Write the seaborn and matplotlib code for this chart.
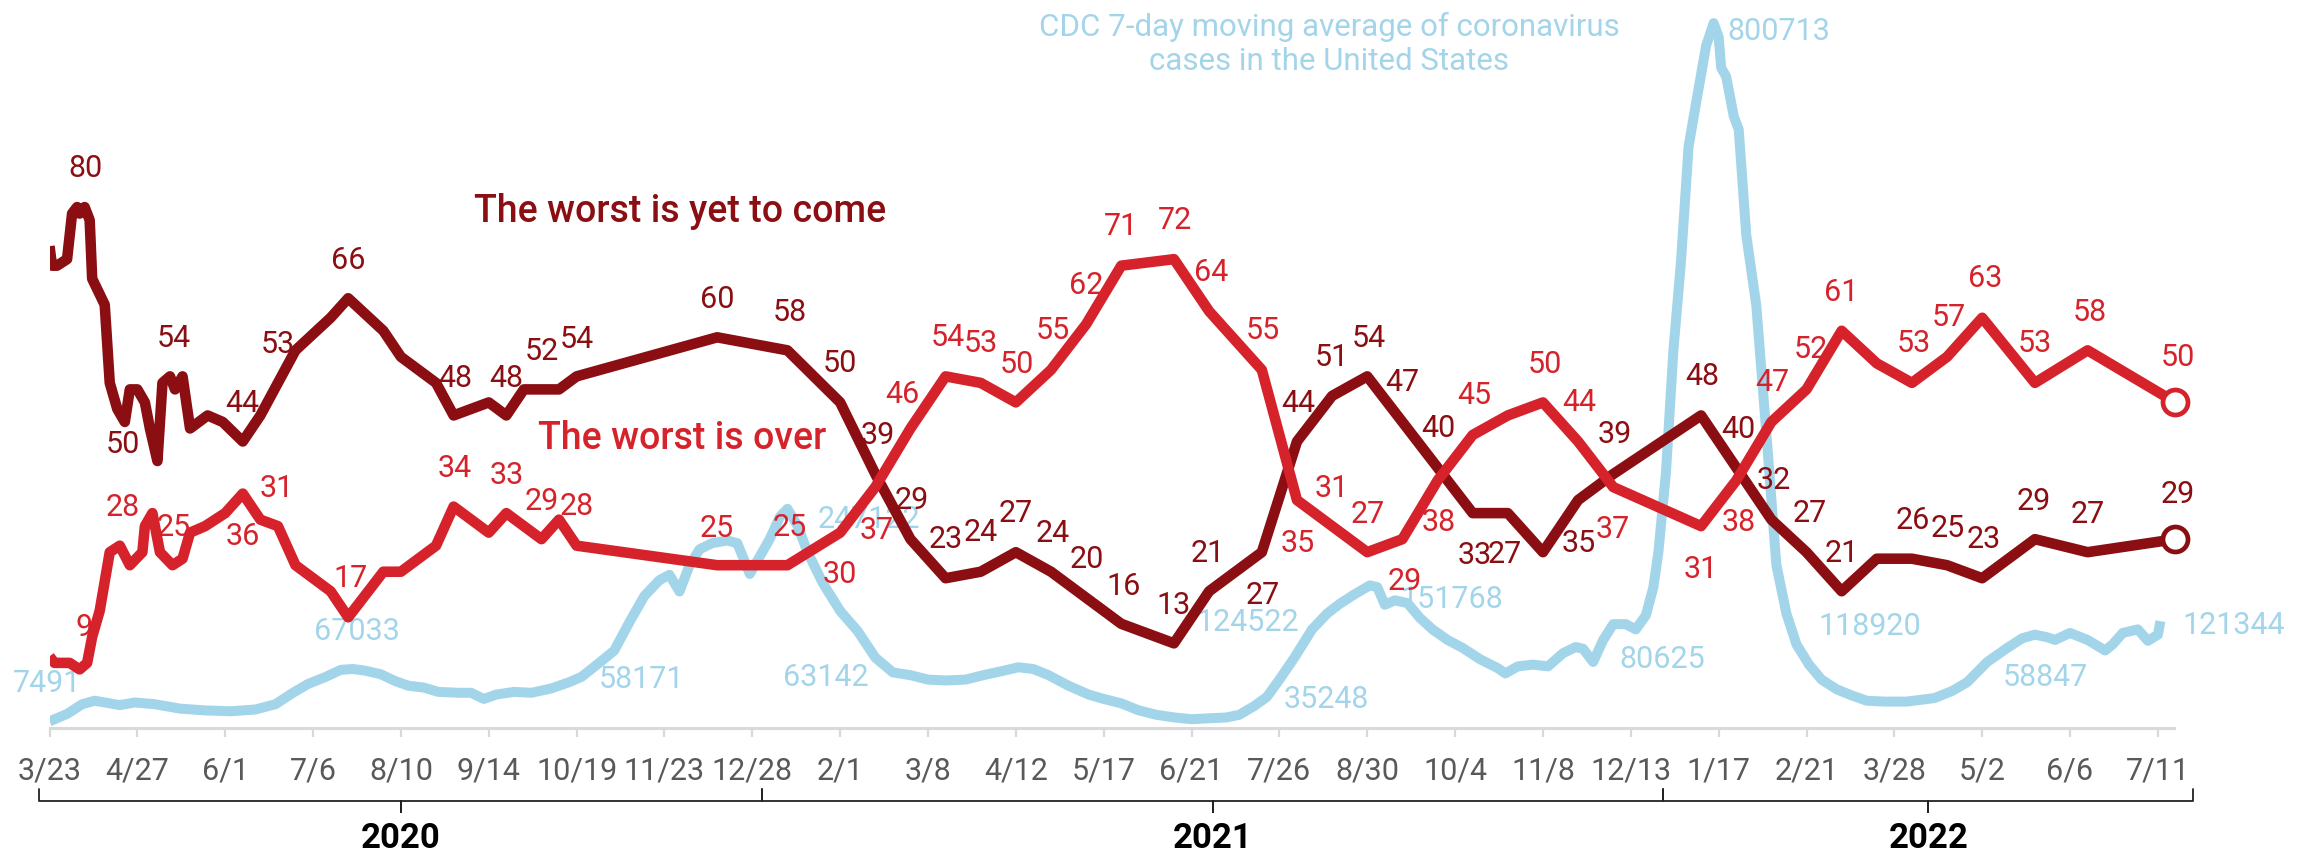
import numpy as np
import pandas as pd
import matplotlib
matplotlib.use("Agg")
import matplotlib.pyplot as plt
import matplotlib.transforms as mtransforms
import seaborn as sns

# ------------------------------------------------------------------ data
WORST_TO_COME_DATES = [
    "2020-03-23", "2020-03-24", "2020-03-26", "2020-03-30", "2020-04-01", "2020-04-03",
    "2020-04-04", "2020-04-06", "2020-04-08", "2020-04-09", "2020-04-14", "2020-04-16",
    "2020-04-19", "2020-04-22", "2020-04-24", "2020-04-27", "2020-04-30", "2020-05-02",
    "2020-05-05", "2020-05-07", "2020-05-10", "2020-05-12", "2020-05-15", "2020-05-18",
    "2020-05-25", "2020-05-31", "2020-06-08", "2020-06-15", "2020-06-22", "2020-06-29",
    "2020-07-13", "2020-07-20", "2020-08-03", "2020-08-10", "2020-08-24", "2020-08-31",
    "2020-09-14", "2020-09-21", "2020-09-28", "2020-10-05", "2020-10-12", "2020-10-19",
    "2020-12-14", "2021-01-11", "2021-02-01", "2021-02-15", "2021-03-01", "2021-03-15",
    "2021-03-29", "2021-04-12", "2021-04-26", "2021-05-10", "2021-05-24", "2021-06-14",
    "2021-06-28", "2021-07-19", "2021-08-02", "2021-08-16", "2021-08-30", "2021-09-13",
    "2021-09-27", "2021-10-11", "2021-10-25", "2021-11-08", "2021-11-22", "2021-12-06",
    "2022-01-10", "2022-01-24", "2022-02-07", "2022-02-21", "2022-03-07", "2022-03-21",
    "2022-04-04", "2022-04-18", "2022-05-02", "2022-05-23", "2022-06-13", "2022-07-18",
]
WORST_TO_COME = [
    74, 71, 71, 72, 79, 80,
    79, 80, 78, 69, 65, 53,
    49, 47, 52, 52, 50, 46,
    41, 53, 54, 52, 54, 46,
    48, 47, 44, 48, 53, 58,
    63, 66, 61, 57, 53, 48,
    50, 48, 52, 52, 52, 54,
    60, 58, 50, 39, 29, 23,
    24, 27, 24, 20, 16, 13,
    21, 27, 44, 51, 54, 47,
    40, 33, 33, 27, 35, 39,
    48, 40, 32, 27, 21, 26,
    26, 25, 23, 29, 27, 29,
]

WORST_OVER_DATES = [
    "2020-03-23", "2020-03-25", "2020-03-31", "2020-04-04", "2020-04-07", "2020-04-09",
    "2020-04-12", "2020-04-16", "2020-04-20", "2020-04-24", "2020-04-29", "2020-04-30",
    "2020-05-03", "2020-05-06", "2020-05-11", "2020-05-15", "2020-05-18", "2020-05-24",
    "2020-06-01", "2020-06-08", "2020-06-15", "2020-06-22", "2020-06-29", "2020-07-13",
    "2020-07-20", "2020-08-03", "2020-08-10", "2020-08-24", "2020-08-31", "2020-09-14",
    "2020-09-21", "2020-10-05", "2020-10-12", "2020-10-19", "2020-12-14", "2021-01-11",
    "2021-02-01", "2021-02-15", "2021-03-01", "2021-03-15", "2021-03-29", "2021-04-12",
    "2021-04-26", "2021-05-10", "2021-05-24", "2021-06-14", "2021-06-28", "2021-07-19",
    "2021-08-02", "2021-08-16", "2021-08-30", "2021-09-13", "2021-09-27", "2021-10-11",
    "2021-10-25", "2021-11-08", "2021-11-22", "2021-12-06", "2022-01-10", "2022-01-24",
    "2022-02-07", "2022-02-21", "2022-03-07", "2022-03-21", "2022-04-04", "2022-04-18",
    "2022-05-02", "2022-05-23", "2022-06-13", "2022-07-18",
]
WORST_OVER = [
    11, 10, 10, 9, 10, 14,
    18, 27, 28, 25, 27, 31,
    33, 27, 25, 26, 30, 31,
    33, 36, 32, 31, 25, 21,
    17, 24, 24, 28, 34, 30,
    33, 29, 32, 28, 25, 25,
    30, 37, 46, 54, 53, 50,
    55, 62, 71, 72, 64, 55,
    35, 31, 27, 29, 38, 45,
    48, 50, 44, 37, 31, 38,
    47, 52, 61, 56, 53, 57,
    63, 53, 58, 50,
]

CASES_DATES = [
    "2020-03-23", "2020-03-30", "2020-04-05", "2020-04-10", "2020-04-16", "2020-04-20",
    "2020-04-26", "2020-05-04", "2020-05-14", "2020-05-24", "2020-06-03", "2020-06-13",
    "2020-06-21", "2020-06-28", "2020-07-04", "2020-07-11", "2020-07-17", "2020-07-22",
    "2020-07-27", "2020-08-02", "2020-08-08", "2020-08-13", "2020-08-19", "2020-08-25",
    "2020-09-02", "2020-09-07", "2020-09-12", "2020-09-17", "2020-09-24", "2020-10-01",
    "2020-10-09", "2020-10-16", "2020-10-21", "2020-10-28", "2020-11-03", "2020-11-09",
    "2020-11-15", "2020-11-21", "2020-11-25", "2020-11-29", "2020-12-03", "2020-12-07",
    "2020-12-12", "2020-12-18", "2020-12-22", "2020-12-27", "2020-12-31", "2021-01-04",
    "2021-01-08", "2021-01-11", "2021-01-15", "2021-01-19", "2021-01-25", "2021-02-01",
    "2021-02-08", "2021-02-15", "2021-02-22", "2021-03-01", "2021-03-08", "2021-03-15",
    "2021-03-23", "2021-03-30", "2021-04-07", "2021-04-13", "2021-04-19", "2021-04-25",
    "2021-05-03", "2021-05-11", "2021-05-17", "2021-05-24", "2021-05-31", "2021-06-07",
    "2021-06-14", "2021-06-21", "2021-06-28", "2021-07-05", "2021-07-10", "2021-07-16",
    "2021-07-21", "2021-07-26", "2021-08-01", "2021-08-08", "2021-08-14", "2021-08-19",
    "2021-08-25", "2021-08-31", "2021-09-03", "2021-09-06", "2021-09-10", "2021-09-15",
    "2021-09-20", "2021-09-25", "2021-10-01", "2021-10-07", "2021-10-14", "2021-10-21",
    "2021-10-24", "2021-10-29", "2021-11-04", "2021-11-10", "2021-11-16", "2021-11-21",
    "2021-11-24", "2021-11-28", "2021-12-02", "2021-12-06", "2021-12-11", "2021-12-15",
    "2021-12-19", "2021-12-22", "2021-12-24", "2021-12-27", "2021-12-30", "2022-01-02",
    "2022-01-05", "2022-01-08", "2022-01-12", "2022-01-15", "2022-01-17", "2022-01-18",
    "2022-01-20", "2022-01-23", "2022-01-25", "2022-01-28", "2022-02-01", "2022-02-05",
    "2022-02-09", "2022-02-13", "2022-02-17", "2022-02-22", "2022-02-27", "2022-03-05",
    "2022-03-11", "2022-03-17", "2022-03-24", "2022-04-02", "2022-04-13", "2022-04-20",
    "2022-04-26", "2022-05-04", "2022-05-12", "2022-05-18", "2022-05-23", "2022-05-28",
    "2022-05-31", "2022-06-06", "2022-06-13", "2022-06-20", "2022-06-23", "2022-06-27",
    "2022-07-03", "2022-07-07", "2022-07-11", "2022-07-12",
]
CASES = [
    7491, 16000, 27000, 31000, 28000, 26000,
    29000, 27000, 22000, 20000, 19000, 21000,
    27000, 40000, 50000, 58000, 66000, 67033,
    65000, 61000, 53000, 48000, 46000, 41000,
    40000, 40000, 33000, 38000, 41000, 40000,
    45000, 52000, 58171, 74000, 88000, 120000,
    150000, 168000, 174000, 155000, 185000, 203000,
    210000, 213000, 210000, 175000, 195000, 215000,
    240000, 249000, 230000, 200000, 165000, 133000,
    110000, 80000, 63142, 60000, 55000, 54000,
    55000, 60000, 65000, 69000, 67000, 60000,
    48000, 38000, 33000, 28000, 20000, 15000,
    12000, 10000, 11000, 12000, 15000, 25000,
    35248, 55000, 80000, 112000, 130000, 141000,
    152000, 162000, 160000, 140000, 145000, 142000,
    125000, 112000, 100000, 91000, 78000, 68000,
    62000, 70000, 72000, 70000, 85000, 92000,
    90000, 75000, 100000, 118000, 118000, 112000,
    128000, 160000, 200000, 290000, 430000, 530000,
    660000, 710000, 775000, 800713, 785000, 750000,
    740000, 695000, 680000, 560000, 480000, 335000,
    185000, 130000, 95000, 72000, 55000, 44000,
    37000, 31000, 30000, 30000, 34000, 42000,
    52000, 75000, 91000, 102000, 106000, 103000,
    100000, 108000, 100000, 88000, 95000, 108000,
    112000, 99000, 106000, 121344,
]

CASE_LABEL_TEXTS = ["7491", "67033", "58171", "63142", "247122", "124522", "35248",
                    "151768", "80625", "800713", "118920", "58847", "121344"]

TICK_DATES = [
    "2020-03-23", "2020-04-27", "2020-06-01", "2020-07-06", "2020-08-10", "2020-09-14",
    "2020-10-19", "2020-11-23", "2020-12-28", "2021-02-01", "2021-03-08", "2021-04-12",
    "2021-05-17", "2021-06-21", "2021-07-26", "2021-08-30", "2021-10-04", "2021-11-08",
    "2021-12-13", "2022-01-17", "2022-02-21", "2022-03-28", "2022-05-02", "2022-06-06",
    "2022-07-11",
]
TICK_LABELS = [
    "3/23", "4/27", "6/1", "7/6", "8/10", "9/14", "10/19", "11/23", "12/28", "2/1",
    "3/8", "4/12", "5/17", "6/21", "7/26", "8/30", "10/4", "11/8", "12/13", "1/17",
    "2/21", "3/28", "5/2", "6/6", "7/11",
]
YEAR_LABELS = ["2020", "2021", "2022"]
YEAR_BOUNDS = ["2020-03-19", "2021-01-01", "2021-12-26", "2022-07-25"]

SERIES_COME_NAME = "The worst is yet to come"
SERIES_OVER_NAME = "The worst is over"
CASES_CAPTION = "CDC 7-day moving average of coronavirus\ncases in the United States"

# ------------------------------------------------------------------ label placement (pixels)
COME_LABELS = [
    ("2020-04-03", 8, 39), ("2020-04-30", -22, -42), ("2020-05-15", -9, 38),
    ("2020-06-08", -1, 38), ("2020-06-22", 0, 38), ("2020-07-20", 0, 38),
    ("2020-08-31", 2, 37), ("2020-09-21", 0, 37), ("2020-10-05", 0, 38),
    ("2020-10-19", 0, 37), ("2020-12-14", 0, 38), ("2021-01-11", 2, 38),
    ("2021-02-01", 0, 39), ("2021-02-15", 2, 39), ("2021-03-01", 1, 39),
    ("2021-03-15", 0, 39), ("2021-03-29", 0, 39), ("2021-04-12", 0, 39),
    ("2021-04-26", 2, 38), ("2021-05-10", 1, 38), ("2021-05-24", 2, 37),
    ("2021-06-14", 0, 38), ("2021-06-28", -1, 38), ("2021-07-19", 1, -43),
    ("2021-08-02", 1, 38), ("2021-08-16", 0, 38), ("2021-08-30", 2, 38),
    ("2021-09-13", 0, 39), ("2021-09-27", 1, 39), ("2021-10-11", 2, -42),
    ("2021-11-08", -38, -2), ("2021-11-22", 1, -43), ("2021-12-06", 2, 40),
    ("2022-01-10", 1, 39), ("2022-01-24", 2, 38), ("2022-02-07", 2, 39),
    ("2022-02-21", 3, 39), ("2022-03-07", 0, 38), ("2022-04-04", 1, 38),
    ("2022-04-18", 1, 37), ("2022-05-02", 2, 39), ("2022-05-23", -1, 38),
    ("2022-06-13", 0, 38), ("2022-07-18", 2, 45),
]
OVER_LABELS = [
    ("2020-04-04", 4, 42), ("2020-04-20", 3, 38), ("2020-05-11", 1, 38),
    ("2020-06-08", 0, -43), ("2020-06-22", -1, 38), ("2020-07-20", 2, 39),
    ("2020-08-31", 1, 38), ("2020-09-21", 0, 38), ("2020-10-05", 0, 38),
    ("2020-10-19", 0, 39), ("2020-12-14", 0, 37), ("2021-01-11", 2, 38),
    ("2021-02-01", 0, -42), ("2021-02-15", 1, -43), ("2021-03-01", -8, 34),
    ("2021-03-15", 2, 39), ("2021-03-29", 0, 39), ("2021-04-12", 1, 38),
    ("2021-04-26", 2, 39), ("2021-05-10", 0, 39), ("2021-05-24", 0, 39),
    ("2021-06-14", 1, 39), ("2021-06-28", 2, 39), ("2021-07-19", 1, 39),
    ("2021-08-02", 1, -43), ("2021-08-16", 0, 38), ("2021-08-30", 1, 38),
    ("2021-09-13", 2, -42), ("2021-09-27", 1, -42), ("2021-10-11", 2, 39),
    ("2021-11-08", 2, 38), ("2021-11-22", 1, 39), ("2021-12-06", 0, -42),
    ("2022-01-10", 0, -43), ("2022-01-24", 2, -42), ("2022-02-07", 1, 39),
    ("2022-02-21", 4, 40), ("2022-03-07", 0, 38), ("2022-04-04", 2, 39),
    ("2022-04-18", 2, 39), ("2022-05-02", 3, 39), ("2022-05-23", 0, 39),
    ("2022-06-13", 2, 38), ("2022-07-18", 2, 45),
]
CASE_LABEL_ANCHORS = [
    ("2020-03-23", -2, 38), ("2020-07-22", 4, 37), ("2020-10-21", 60, -3),
    ("2021-02-22", -67, -5), ("2021-01-11", 81, -11), ("2021-07-21", -19, 74),
    ("2021-07-21", 59, -3), ("2021-08-31", 82, -14), ("2021-11-28", 69, 2),
    ("2022-01-15", 65, -8), ("2022-02-13", 83, -13), ("2022-05-04", 58, -16),
    ("2022-07-12", 73, -4),
]

# ------------------------------------------------------------------ style / layout
W, H, DPI = 2310, 855, 100
X0_PX, X1_PX, AXIS_Y_PX = 49.5, 2174.0, 728.0
PX_PER_DAY = 2.51
PCT_TOP = 111.8
CASES_TOP = 827000

DARK = "#8a0e12"
RED = "#d6232b"
BLUE = "#a3d5ea"
GRID_GREY = "#d9d9d9"
TICK_GREY = "#595959"
LW_SURVEY = 7.6
LW_CASES = 7.2
NUM_FS = 22

sns.set_theme(style="white")
plt.rcParams["font.family"] = ["Roboto", "DejaVu Sans"]

fig = plt.figure(figsize=(W / DPI, H / DPI), dpi=DPI)
ax = fig.add_axes([X0_PX / W, 1 - AXIS_Y_PX / H, (X1_PX - X0_PX) / W, AXIS_Y_PX / H])
ax2 = ax.twinx()

come = pd.DataFrame({"date": pd.to_datetime(WORST_TO_COME_DATES), "pct": WORST_TO_COME})
over = pd.DataFrame({"date": pd.to_datetime(WORST_OVER_DATES), "pct": WORST_OVER})
cases = pd.DataFrame({"date": pd.to_datetime(CASES_DATES), "cases": CASES})

# cases (bottom layer)
sns.lineplot(data=cases, x="date", y="cases", ax=ax, color=BLUE,
             sort=False, estimator=None, legend=False, zorder=3)
for ln in ax.get_lines():
    ln.set_linewidth(LW_CASES)
    ln.set_solid_joinstyle("round")
    ln.set_solid_capstyle("butt")

# survey series (top layer)
sns.lineplot(data=come, x="date", y="pct", ax=ax2, color=DARK,
             sort=False, estimator=None, legend=False, zorder=3)
sns.lineplot(data=over, x="date", y="pct", ax=ax2, color=RED,
             sort=False, estimator=None, legend=False, zorder=4)
for ln in ax2.get_lines():
    ln.set_linewidth(LW_SURVEY)
    ln.set_solid_joinstyle("round")
    ln.set_solid_capstyle("butt")

# open circles at the latest reading
for df, col in ((come, DARK), (over, RED)):
    ax2.plot(df["date"].iloc[-1], df["pct"].iloc[-1], marker="o", ms=18,
             mfc="white", mec=col, mew=3.4, zorder=6, clip_on=False)

start = pd.Timestamp(TICK_DATES[0])
end = start + pd.Timedelta(days=(X1_PX - X0_PX) / PX_PER_DAY)
for a in (ax, ax2):
    a.set_xlim(start, end)
    a.set_xlabel("")
    a.set_ylabel("")
    for s in a.spines.values():
        s.set_visible(False)
ax.set_ylim(0, CASES_TOP)
ax2.set_ylim(0, PCT_TOP)
ax.set_yticks([])
ax2.set_yticks([])

ax.spines["bottom"].set_visible(True)
ax.spines["bottom"].set_color(GRID_GREY)
ax.spines["bottom"].set_linewidth(2.2)
ax.set_xticks(pd.to_datetime(TICK_DATES))
ax.set_xticklabels(TICK_LABELS, fontsize=NUM_FS, color=TICK_GREY)
ax.tick_params(axis="x", length=6.5, width=1.6, color=GRID_GREY, pad=14, bottom=True)
ax.grid(False)
ax2.grid(False)


def label_series(axis, df, value_col, anchors, color):
    lookup = dict(zip(df["date"], df[value_col]))
    for d, dx, dy in anchors:
        t = pd.Timestamp(d)
        v = lookup[t]
        axis.annotate(f"{v:g}", xy=(t, v), xytext=(dx, dy), textcoords="offset pixels",
                      ha="center", va="center", color=color, fontsize=NUM_FS,
                      zorder=2, annotation_clip=False)


label_series(ax2, come, "pct", COME_LABELS, DARK)
label_series(ax2, over, "pct", OVER_LABELS, RED)

case_lookup = dict(zip(cases["date"], cases["cases"]))
for text, (d, dx, dy) in zip(CASE_LABEL_TEXTS, CASE_LABEL_ANCHORS):
    t = pd.Timestamp(d)
    ax.annotate(text, xy=(t, case_lookup[t]), xytext=(dx, dy), textcoords="offset pixels",
                ha="center", va="center", color=BLUE, fontsize=NUM_FS, zorder=2,
                annotation_clip=False)

# series names and caption
fig.text(474 / W, 1 - 211 / H, SERIES_COME_NAME, color=DARK, fontsize=27,
         fontweight="medium", ha="left", va="center")
fig.text(538 / W, 1 - 438 / H, SERIES_OVER_NAME, color=RED, fontsize=27,
         fontweight="medium", ha="left", va="center")
fig.text(1329 / W, 1 - 44 / H, CASES_CAPTION, color=BLUE, fontsize=22.5,
         ha="center", va="center", linespacing=1.2)

# year braces under the date axis
trans = mtransforms.blended_transform_factory(ax.transData, ax.transAxes)


def frac(py):
    return (AXIS_Y_PX - py) / AXIS_Y_PX


bounds = pd.to_datetime(YEAR_BOUNDS)
for i, year in enumerate(YEAR_LABELS):
    x0, x1 = bounds[i], bounds[i + 1]
    mid = x0 + (x1 - x0) / 2
    xs = [x0, x0, mid, mid, mid, x1, x1]
    ys = [frac(789), frac(801), frac(801), frac(812), frac(801), frac(801), frac(789)]
    ax.plot(xs, ys, transform=trans, clip_on=False, color="#222222", lw=1.3)
    ax.text(mid, frac(838), year, transform=trans, ha="center", va="center",
            fontsize=25, fontweight="bold", color="black")

fig.savefig("out.png", dpi=DPI)
